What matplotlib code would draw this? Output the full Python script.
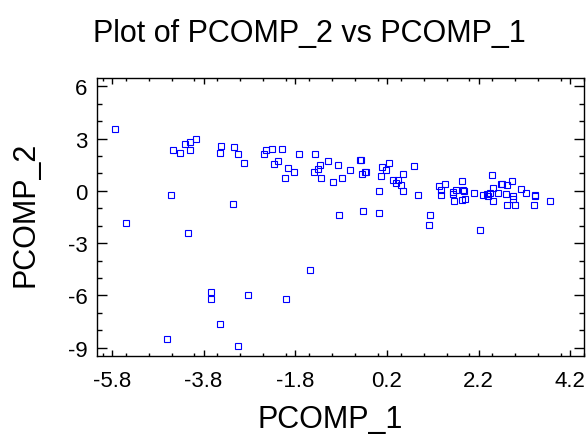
import matplotlib.pyplot as plt
from matplotlib.ticker import MultipleLocator, FixedLocator

plt.rcParams['font.family'] = ['Liberation Sans', 'DejaVu Sans']
plt.rcParams['axes.unicode_minus'] = False

# scores
pcomp_1 = [-5.73, -5.50, -4.51, -4.47, -4.32, -4.21, -4.10, -4.09, -3.97, -4.15,
           -4.59, -3.63, -3.63, -3.45, -3.06, -2.84, -2.01, -3.16, -3.45, -3.43,
           -3.14, -3.06, -2.91, -2.48, -2.43, -2.31, -2.09, -2.26, -2.17, -1.95,
           -2.03, -1.82, -1.71, -1.36, -1.40, -1.31, -1.26, -1.23, -1.09, -0.98,
           -0.87, -0.77, -0.84, -0.61, -0.38, -0.37, -0.35, -0.27, -0.26, -0.33,
           0.03, 0.03, 0.08, 0.10, 0.19, 0.24, 0.34, 0.39, 0.45, 0.50,
           0.54, 0.56, 0.79, 0.87, 1.15, 1.12, 1.33, 1.38, 1.38, 1.47,
           1.65, 1.65, 1.66, 1.71, 1.83, 1.84, 1.86, 1.89, 1.91, 2.09,
           2.24, 2.30, 2.39, 2.41, 2.45, 2.50, 2.52, 2.52, 2.62, 2.68,
           2.70, 2.79, 2.83, 2.83, 2.93, 2.96, 2.96, 2.99, 3.13, 3.24,
           3.40, 3.42, 3.43, 3.75, -1.48]
pcomp_2 = [3.58, -1.86, -0.23, 2.37, 2.15, 2.69, 2.80, 2.33, 2.99, -2.44,
           -8.51, -5.81, -6.19, -7.62, -8.93, -5.98, -6.19, -0.76, 2.19, 2.57,
           2.52, 2.10, 1.62, 2.10, 2.33, 2.38, 2.38, 1.52, 1.70, 1.34,
           0.73, 1.11, 2.10, 2.10, 1.11, 1.24, 1.47, 0.73, 1.74, 0.48,
           1.47, 0.73, -1.39, 1.22, 1.75, 1.78, 0.99, 1.07, 1.10, -1.18,
           -1.27, -0.02, 0.88, 1.37, 1.18, 1.62, 0.63, 0.44, 0.65, 0.34,
           0.99, -0.02, 1.41, -0.26, -1.39, -1.96, 0.25, 0.04, -0.26, 0.37,
           -0.09, -0.17, -0.59, 0.04, 0.57, -0.53, 0.04, 0.00, -0.47, -0.11,
           -2.23, -0.21, -0.17, -0.32, -0.13, 0.90, 0.15, -0.59, -0.15, 0.42,
           0.37, -0.17, 0.31, -0.80, 0.54, -0.28, -0.47, -0.80, 0.10, -0.13,
           -0.80, -0.28, -0.22, -0.59, -4.55]

x_ticks = [-5.8, -3.8, -1.8, 0.2, 2.2, 4.2]
y_ticks = [-9, -6, -3, 0, 3, 6]

fig = plt.figure(figsize=(5.87, 4.35), dpi=100)
ax = fig.add_axes([97.3 / 587, 1 - 357.3 / 435, (584 - 97.3) / 587, (357.3 - 79) / 435])

ax.plot(pcomp_1, pcomp_2, linestyle='none', marker='s', markersize=4.3,
        markerfacecolor='none', markeredgecolor='blue', markeredgewidth=0.8)

ax.set_xlim(-6.12, 4.5)
ax.set_ylim(-9.5, 6.48)
ax.xaxis.set_major_locator(FixedLocator(x_ticks))
ax.set_xticklabels([str(t) for t in x_ticks])
ax.xaxis.set_minor_locator(MultipleLocator(0.5))
ax.yaxis.set_major_locator(FixedLocator(y_ticks))
ax.set_yticklabels([str(t) for t in y_ticks])
ax.yaxis.set_minor_locator(MultipleLocator(1))

ax.tick_params(axis='both', which='both', direction='in', top=True, right=True,
               labelsize=16, width=1)
ax.tick_params(axis='x', which='major', length=4.5, pad=10)
ax.tick_params(axis='x', which='minor', length=2.5)
ax.tick_params(axis='y', which='major', length=7, pad=7)
ax.tick_params(axis='y', which='minor', length=3.8)
for s in ax.spines.values():
    s.set_linewidth(1)

fig.text(309 / 587, 1 - 42 / 435, 'Plot of PCOMP_2 vs PCOMP_1', fontsize=22,
         ha='center', va='baseline')
fig.text(330 / 587, 1 - 428 / 435, 'PCOMP_1', fontsize=22, ha='center', va='baseline')
fig.text(26 / 587, 1 - 214 / 435, 'PCOMP_2', fontsize=22, rotation=90,
         ha='center', va='center')

fig.savefig('out.png', dpi=100)
